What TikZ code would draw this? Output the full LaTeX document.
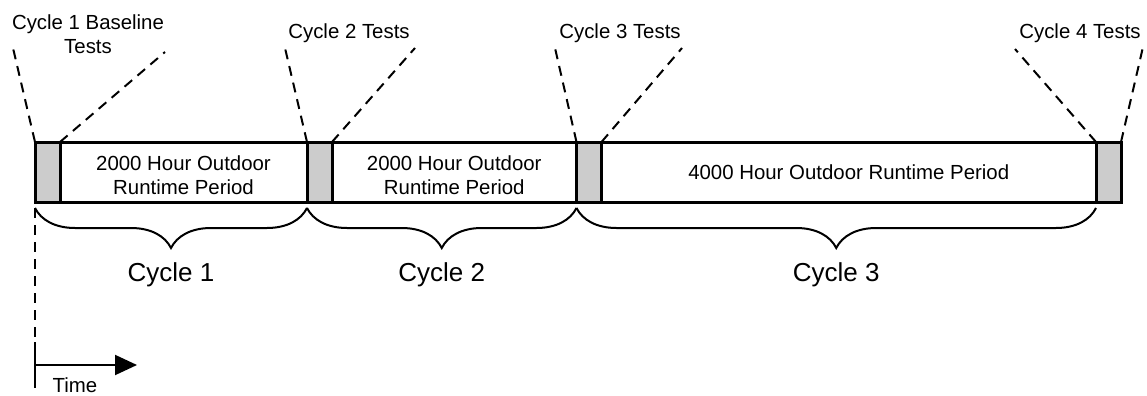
\documentclass[tikz,border=0pt]{standalone}
\usepackage{fontspec}
\setmainfont{Liberation Sans}
\usepackage{tikz}
\usetikzlibrary{calc}
\usetikzlibrary{arrows.meta}
\usetikzlibrary{decorations.pathreplacing}
\tikzset{>=latex}
\tikzstyle{test} = [rectangle, draw=black, fill=black!20, line width=1.5pt, minimum width=12.5pt, minimum height=30pt, inner sep=0pt, outer sep=0pt]
\tikzstyle{guide} = [line width=1pt, dash pattern=on 5pt off 3.5pt]
\tikzstyle{cyc} = [line width=1pt, decorate, decoration={brace, mirror, amplitude=20pt, raise=3pt}]
\tikzstyle{small} = [font=\fontsize{10.2}{12}\selectfont, align=center, inner sep=0pt]
\tikzstyle{big} = [font=\fontsize{13}{15}\selectfont, inner sep=0pt]

\begin{document}
\begin{tikzpicture}[x=0.5pt, y=-0.5pt]
\useasboundingbox (0,0) rectangle (1147,396);
\node [test] (t1) at (47.5, 172) {};
\node [test] (t2) at (319.5, 172) {};
\node [test] (t3) at (589, 172) {};
\node [test] (t4) at (1108.5, 172) {};
\draw [line width=1.5pt] (t1.north west) rectangle (t4.south east);
\node [small] (p1) at ($(t1.east)!.5!(t2.west)+(0,3)$) {2000 Hour Outdoor\\Runtime Period};
\node [small] (p2) at ($(t2.east)!.5!(t3.west)+(0,3)$) {2000 Hour Outdoor\\Runtime Period};
\node [small] (p3) at ($(t3.east)!.5!(t4.west)$) {4000 Hour Outdoor Runtime Period};
\node [small, anchor=north] (lab1) at (88, 14) {Cycle 1 Baseline\\Tests};
\node [small, anchor=base] (lab2) at (349, 39) {Cycle 2 Tests};
\node [small, anchor=base] (lab3) at (620, 39) {Cycle 3 Tests};
\node [small, anchor=base] (lab4) at (1080, 39) {Cycle 4 Tests};
\foreach \n/\xa/\ya/\xb/\yb in {1/13/48/165/52, 2/285/48/415/48, 3/555/48/682/48, 4/1015/49/1143/47} {
  \coordinate (l\n) at (\xa, \ya);
  \coordinate (r\n) at (\xb, \yb);
  \draw [guide] (t\n.north west) -- (l\n);
  \draw [guide] (t\n.north east) -- (r\n);
}
\draw [cyc] (t1.south west) -- (t2.south west);
\draw [cyc] (t2.south west) -- (t3.south west);
\draw [cyc] (t3.south west) -- (t4.south west);
\node [big, anchor=base] (c1) at ($(t1.south west)!.5!(t2.south west)+(0,79)$) {Cycle 1};
\node [big, anchor=base] (c2) at ($(t2.south west)!.5!(t3.south west)+(0,79)$) {Cycle 2};
\node [big, anchor=base] (c3) at ($(t3.south west)!.5!(t4.south west)+(0,79)$) {Cycle 3};
\coordinate (a0) at (35, 208);
\coordinate (a1) at (35, 342);
\coordinate (a2) at (35, 388);
\coordinate (a3) at (35, 365);
\coordinate (a4) at (137, 365);
\draw [guide] (a0) -- (a1);
\draw [line width=1pt] (a1) -- (a2);
\draw [line width=1pt, -{Triangle[length=11pt, width=10pt]}] (a3) -- (a4);
\node [small, anchor=base] (time) at (75, 392) {Time};
\end{tikzpicture}
\end{document}
